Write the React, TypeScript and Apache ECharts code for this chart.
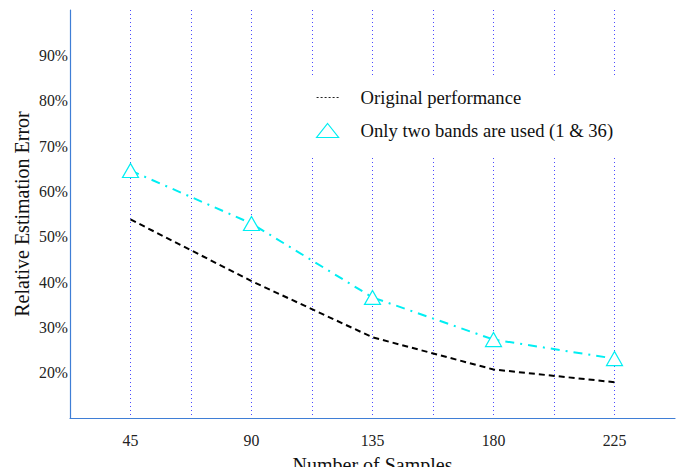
import React, { useEffect, useRef } from "react";
import * as echarts from "echarts";

const samples = [45, 90, 135, 180, 225];
const originalPerf = [53.8, 40.2, 27.8, 20.7, 17.9];
const twoBands = [64.6, 52.9, 36.6, 27.3, 23.1];
const seriesNames = ["Original performance", "Only two bands are used (1 & 36)"];
const xLabelValues = [45, 90, 135, 180, 225];

const FONT = "Liberation Serif";
const CYAN = "#00EEF2";
const AXIS_BLUE = "#3F7ED6";

export default function App() {
  const ref = useRef<HTMLDivElement>(null);
  useEffect(() => {
    if (!ref.current) return;
    const chart = echarts.init(ref.current, undefined, { renderer: "svg" });
    chart.setOption({
      animation: false,
      backgroundColor: "#fff",
      textStyle: { fontFamily: FONT },
      grid: { left: 70, top: 10, right: 13, bottom: 57, containLabel: false, outerBoundsMode: "none" },
      legend: {
        orient: "vertical",
        left: 305,
        top: 75,
        padding: [13, 10, 15, 11],
        itemGap: 14,
        itemWidth: 22,
        itemHeight: 14,
        backgroundColor: "#fff",
        textStyle: { fontFamily: FONT, fontSize: 18.6, color: "#111", padding: [0, 0, 0, 17] },
        data: [
          {
            name: seriesNames[0],
            lineStyle: { type: [2, 2], width: 1, color: "#222" },
            itemStyle: { color: "transparent", borderWidth: 0, opacity: 0 },
          },
          {
            name: seriesNames[1],
            icon: "triangle",
            itemStyle: { color: "#fff", borderColor: CYAN, borderWidth: 1.2 },
          },
        ],
      },
      xAxis: {
        type: "value",
        min: 22.5,
        max: 247.5,
        interval: 22.5,
        name: "Number of Samples",
        nameLocation: "middle",
        nameGap: 37,
        nameMoveOverlap: false,
        nameTextStyle: { fontFamily: FONT, fontSize: 20, color: "#111" },
        axisLine: { show: true, lineStyle: { color: AXIS_BLUE, width: 1.2 } },
        axisTick: { show: false },
        axisLabel: {
          fontFamily: FONT,
          fontSize: 15.8,
          color: "#222",
          margin: 14,
          showMinLabel: false,
          showMaxLabel: false,
          formatter: (v: number) => (xLabelValues.includes(Math.round(v * 10) / 10) ? String(v) : ""),
        },
        splitLine: {
          show: true,
          showMinLine: false,
          showMaxLine: false,
          lineStyle: { color: "#4a4aff", type: [1, 3], width: 1 },
        },
      },
      yAxis: {
        type: "value",
        min: 10,
        max: 100,
        interval: 10,
        name: "Relative Estimation Error",
        nameLocation: "middle",
        nameGap: 38,
        nameMoveOverlap: false,
        nameTextStyle: { fontFamily: FONT, fontSize: 20, color: "#111" },
        axisLine: { show: true, lineStyle: { color: AXIS_BLUE, width: 1.2 } },
        axisTick: { show: false },
        axisLabel: {
          fontFamily: FONT,
          fontSize: 15.8,
          color: "#222",
          margin: 2,
          showMinLabel: false,
          showMaxLabel: false,
          formatter: "{value}%",
        },
        splitLine: { show: false },
      },
      series: [
        {
          name: seriesNames[0],
          type: "line",
          data: samples.map((x, i) => [x, originalPerf[i]]),
          symbol: "none",
          lineStyle: { color: "#000", width: 2, type: [6, 4] },
          itemStyle: { color: "#000" },
          z: 3,
        },
        {
          name: seriesNames[1],
          type: "line",
          data: samples.map((x, i) => [x, twoBands[i]]),
          symbol: "triangle",
          symbolSize: [16, 14],
          lineStyle: { color: CYAN, width: 2, type: [9, 6, 2, 6] },
          itemStyle: { color: "#fff", borderColor: CYAN, borderWidth: 1.2 },
          z: 4,
        },
      ],
    });
    return () => chart.dispose();
  }, []);
  return <div ref={ref} style={{ width: 688, height: 475, margin: -8 }} />;
}
